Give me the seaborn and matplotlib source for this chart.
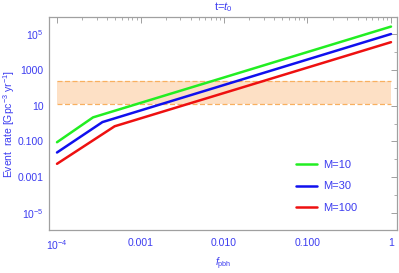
import numpy as np
import pandas as pd
import matplotlib
matplotlib.use("Agg")
import matplotlib.pyplot as plt
import seaborn as sns
from matplotlib.ticker import FixedLocator, NullFormatter

# Data
f_green = [1e-4, 2.7e-4, 1.0]
r_green = [0.09, 2.2, 2.6e5]
f_blue = [1e-4, 3.5e-4, 1.0]
r_blue = [0.024, 1.2, 1.0e5]
f_red = [1e-4, 4.9e-4, 1.0]
r_red = [0.0056, 0.7, 3.5e4]
labels = ["M=10", "M=30", "M=100"]
colors = ["#22ee22", "#1010ee", "#ee1010"]
band_low, band_high = 12.0, 245.0
band_x = [1e-4, 1.0]

x_ticks = [1e-4, 1e-3, 1e-2, 1e-1, 1.0]
x_ticklabels = ["$10^{-4}$", "0.001", "0.010", "0.100", "1"]
y_ticks = [1e-5, 1e-3, 1e-1, 1e1, 1e3, 1e5]
y_ticklabels = ["$10^{-5}$", "0.001", "0.100", "10", "1000", "$10^{5}$"]

df = pd.concat([
    pd.DataFrame({"f": f_green, "rate": r_green, "M": labels[0]}),
    pd.DataFrame({"f": f_blue, "rate": r_blue, "M": labels[1]}),
    pd.DataFrame({"f": f_red, "rate": r_red, "M": labels[2]}),
])

sns.set_style("white")
plt.rcParams['font.family'] = ['Liberation Sans', 'DejaVu Sans']
plt.rcParams['mathtext.fontset'] = 'custom'
plt.rcParams['mathtext.rm'] = 'Liberation Sans'
plt.rcParams['mathtext.it'] = 'Liberation Sans:italic'

fig = plt.figure(figsize=(3.99, 2.73), dpi=100)
ax = fig.add_axes([0.1228, 0.1575, 0.8722, 0.7802])

txt = "#3c3cf0"
grey = "#a0a0a0"

ax.fill_between(band_x, [band_low]*2, [band_high]*2, color="#fde0c5", lw=0, zorder=1)
ax.plot(band_x, [band_low]*2, color="#f8b060", ls=(0, (4, 2)), lw=0.9, zorder=2)
ax.plot(band_x, [band_high]*2, color="#f8b060", ls=(0, (4, 2)), lw=0.9, zorder=2)

sns.lineplot(data=df, x="f", y="rate", hue="M", palette=colors, lw=1.8,
             ax=ax, sort=False, estimator=None, zorder=3)

ax.set_xscale("log")
ax.set_yscale("log")
ax.set_xlim(10**-4.096, 10**0.072)
ax.set_ylim(10**-5.95, 10**5.95)

ax.xaxis.set_major_locator(FixedLocator(x_ticks))
ax.set_xticklabels(x_ticklabels)
minor_x = [m * 10.0**e for e in range(-4, 0) for m in range(2, 10)]
ax.xaxis.set_minor_locator(FixedLocator(minor_x))
ax.xaxis.set_minor_formatter(NullFormatter())
ax.yaxis.set_major_locator(FixedLocator(y_ticks))
ax.set_yticklabels(y_ticklabels)
ax.yaxis.set_minor_locator(FixedLocator([10.0**e for e in range(-6, 7, 2)]))
ax.yaxis.set_minor_formatter(NullFormatter())

ax.tick_params(which="both", direction="in", top=True, right=True, colors=grey,
               labelcolor=txt, labelsize=7.5)
ax.tick_params(which="major", length=4, width=0.7)
ax.tick_params(which="minor", length=2, width=0.6)
ax.tick_params(axis="x", pad=6)
ax.tick_params(axis="y", pad=4)
for s in ax.spines.values():
    s.set_color(grey)
    s.set_linewidth(0.9)

ax.set_xlabel("$f_{\\rm pbh}$", color=txt, fontsize=7.5)
ax.xaxis.set_label_coords(0.5, -0.12)
ax.set_ylabel("Event  rate [Gpc$^{-3}$ yr$^{-1}$]", color=txt, fontsize=7.5)
ax.yaxis.set_label_coords(-0.092, 0.5)
ax.set_title("t=$t_0$", color=txt, fontsize=8, pad=5)

leg = ax.legend(loc="lower right", bbox_to_anchor=(0.915, 0.035), frameon=False,
                fontsize=8, handlelength=1.9, labelspacing=1.0, handletextpad=0.6)
for t in leg.get_texts():
    t.set_color(txt)

fig.savefig("out.png", dpi=100)
